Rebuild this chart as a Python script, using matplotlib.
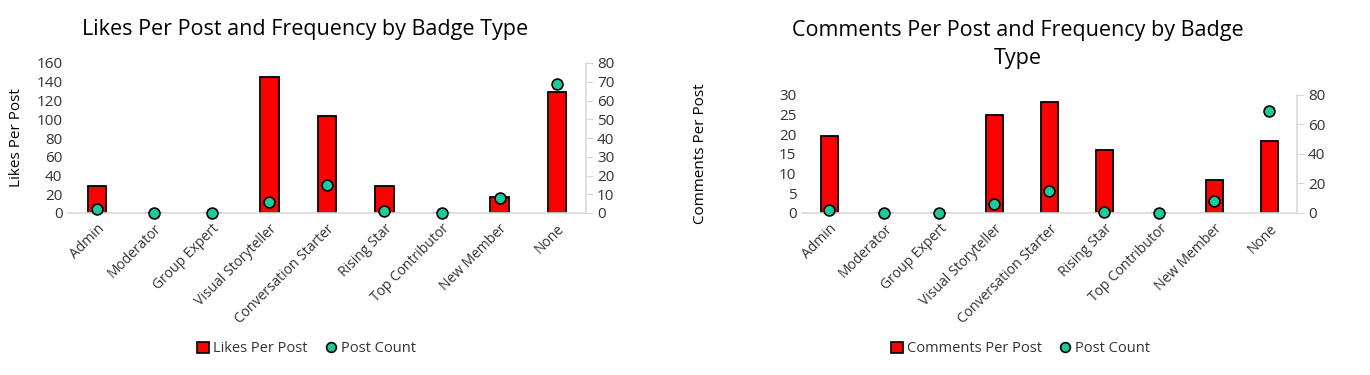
import matplotlib.pyplot as plt
import numpy as np
from matplotlib.lines import Line2D
from matplotlib.patches import Patch

plt.rcParams['font.family'] = ['Open Sans', 'DejaVu Sans']

# Data
badges = ['Admin', 'Moderator', 'Group Expert', 'Visual Storyteller',
          'Conversation Starter', 'Rising Star', 'Top Contributor',
          'New Member', 'None']
likes_per_post = [28.8, 0, 0, 145, 103, 28.8, 0, 17, 129]
comments_per_post = [19.5, 0, 0, 24.8, 28.3, 16, 0, 8.3, 18.4]
post_count = [2, 0, 0, 6, 15, 1, 0, 8, 69]

RED = '#ff0000'
TEAL = '#1fc99a'
GRID = '#d9d9d9'
TXT = '#333333'

fig = plt.figure(figsize=(13.7, 3.75), dpi=100)


def combo(rect, values, ymax, ystep, y2max, y2step, ylabel, ylabel_x, title, title_xy,
          leg_label, leg_x, bar_w):
    ax = fig.add_axes(rect)
    x = np.arange(len(badges))
    ax.bar(x, values, width=bar_w, color=RED, edgecolor='black', linewidth=1.3, zorder=2)
    ax.set_xlim(-0.5, len(badges) - 0.5)
    ax.set_ylim(0, ymax)
    ax.set_yticks(np.arange(0, ymax + 1, ystep))
    ax.set_xticks(x)
    ax.set_xticklabels(badges, rotation=45, ha='right', rotation_mode='anchor', fontsize=10, color=TXT)
    ax.tick_params(axis='x', length=0, pad=6)
    ax.tick_params(axis='y', length=0, labelsize=11, labelcolor=TXT, pad=4)
    for s in ['top', 'right', 'left']:
        ax.spines[s].set_visible(False)
    ax.spines['bottom'].set_color(GRID)
    ax.spines['bottom'].set_linewidth(1.2)
    ax.set_ylabel(ylabel, fontsize=11, color='black')
    ax.yaxis.set_label_coords(ylabel_x, 0.5)

    ax2 = ax.twinx()
    ax2.plot(x, post_count, 'o', markersize=7.8, markerfacecolor=TEAL,
             markeredgecolor='black', markeredgewidth=1.2, zorder=3, clip_on=False)
    ax2.set_ylim(0, y2max)
    ax2.set_yticks(np.arange(0, y2max + 1, y2step))
    for s in ['top', 'left', 'bottom']:
        ax2.spines[s].set_visible(False)
    ax2.spines['right'].set_color(GRID)
    ax2.spines['right'].set_linewidth(1.2)
    ax2.tick_params(axis='y', direction='out', length=5, color=GRID, labelsize=11,
                    labelcolor=TXT, pad=3)

    fig.text(title_xy[0], title_xy[1], title, ha='center', va='center',
             fontsize=15.5, color='black', linespacing=1.45)

    handles = [Patch(facecolor=RED, edgecolor='black', linewidth=1.2),
               Line2D([], [], marker='o', linestyle='', markersize=7,
                      markerfacecolor=TEAL, markeredgecolor='black', markeredgewidth=1.2)]
    fig.legend(handles, [leg_label, 'Post Count'], loc='center', ncol=2,
               bbox_to_anchor=(leg_x, 0.07), frameon=False, fontsize=10.5,
               labelcolor=TXT, handlelength=0.8, handleheight=0.8,
               handletextpad=0.3, columnspacing=1.2)


combo([0.0496, 0.432, 0.378, 0.4], likes_per_post, 160, 20, 80, 10,
      'Likes Per Post', -0.085, 'Likes Per Post and Frequency by Badge Type',
      (0.223, 0.922), 'Likes Per Post', 0.224, 0.32)
combo([0.5854, 0.432, 0.3613, 0.315], comments_per_post, 30, 5, 80, 20,
      'Comments Per Post', -0.19, 'Comments Per Post and Frequency by Badge\nType',
      (0.743, 0.882), 'Comments Per Post', 0.745, 0.3)

fig.savefig('out.png', dpi=100)
